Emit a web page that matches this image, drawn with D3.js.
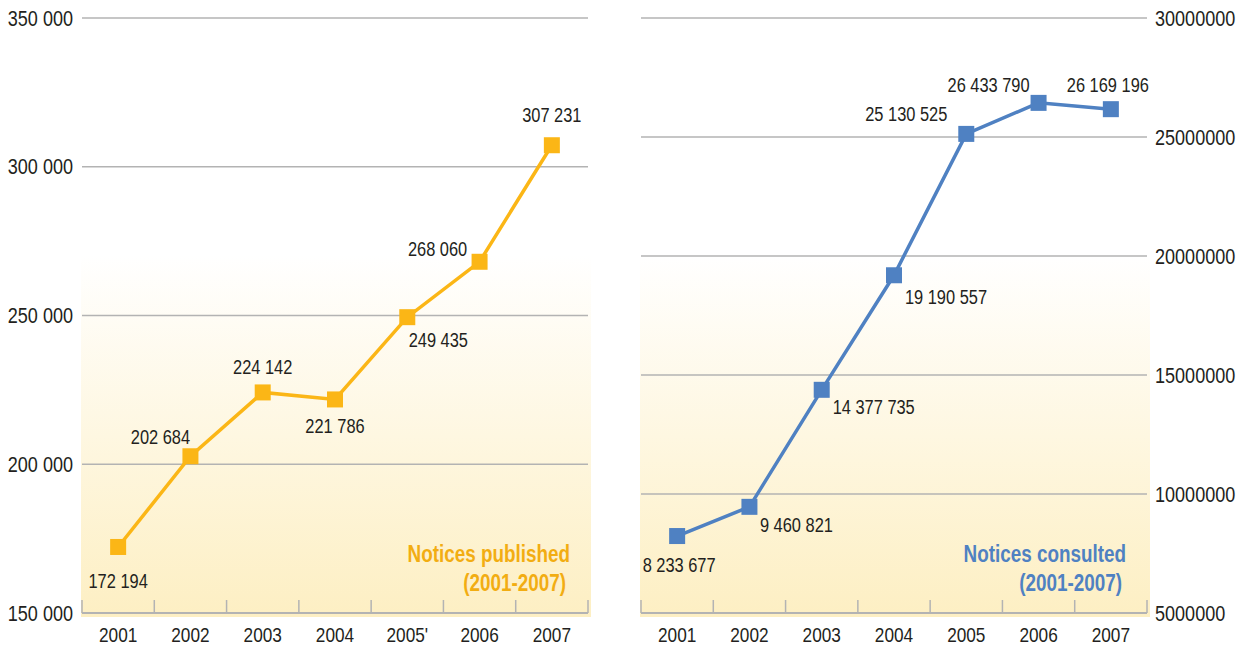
<!DOCTYPE html>
<html>
<head>
<meta charset="utf-8">
<script src="https://cdn.jsdelivr.net/npm/d3@7"></script>
<style>
  body { margin: 0; background: #fff; }
  svg text { font-family: "Liberation Sans", Arial, sans-serif; fill: #231f20; }
</style>
</head>
<body>
<svg id="chart" width="1247" height="648"></svg>
<script>
// data
const years = ['2001', '2002', '2003', '2004', '2005', '2006', '2007'];
const yearLabelsLeft = ['2001', '2002', '2003', '2004', "2005'", '2006', '2007'];
const published = [172194, 202684, 224142, 221786, 249435, 268060, 307231];
const consulted = [8233677, 9460821, 14377735, 19190557, 25130525, 26433790, 26169196];
const publishedTicks = [150000, 200000, 250000, 300000, 350000];
const consultedTicks = [5000000, 10000000, 15000000, 20000000, 25000000, 30000000];

// label offsets from marker (layout only)
const pubOffsets = [[0, 34], [-30, -19], [0, -25], [0, 27], [31, 23], [-42, -13], [0, -30]];
const conOffsets = [[2, 29], [47, 18], [52, 17], [52, 22], [-60, -20], [-50, -18], [-3, -24]];

const svg = d3.select('#chart');
const fmtSpace = v => d3.format(',')(v).replace(/,/g, ' ');

// squeeze text to look like a condensed face
function narrow(sel) {
  sel.each(function () {
    const w = this.getComputedTextLength();
    this.setAttribute('textLength', w * 0.82);
    this.setAttribute('lengthAdjust', 'spacingAndGlyphs');
  });
}

const defs = svg.append('defs');
const grad = defs.append('linearGradient')
  .attr('id', 'bgGrad').attr('x1', 0).attr('y1', 0).attr('x2', 0).attr('y2', 1);
grad.append('stop').attr('offset', '0%').attr('stop-color', '#ffffff');
grad.append('stop').attr('offset', '100%').attr('stop-color', '#fdefc3');

function drawPanel(opts) {
  const x = d3.scaleBand().domain(years).range([opts.x0, opts.x1]).padding(0);
  const y = d3.scaleLinear().domain(opts.domain).range([613, 18]);
  const g = svg.append('g');

  // background
  g.append('rect')
    .attr('x', opts.x0 - 1).attr('y', 255)
    .attr('width', opts.x1 - opts.x0 + opts.bgExtra).attr('height', 617 - 255)
    .attr('fill', 'url(#bgGrad)');

  // grid lines
  g.selectAll('.grid').data(opts.ticks.slice(1)).enter().append('line')
    .attr('x1', opts.x0).attr('x2', opts.x1)
    .attr('y1', d => y(d)).attr('y2', d => y(d))
    .attr('stroke', '#b3b3b3').attr('stroke-width', 1.5);

  // bottom axis line + ticks at band edges
  g.append('line')
    .attr('x1', opts.x0).attr('x2', opts.x1)
    .attr('y1', y(opts.domain[0])).attr('y2', y(opts.domain[0]))
    .attr('stroke', '#b3b3b3').attr('stroke-width', 2);
  const edges = years.map(d => x(d)).concat([opts.x1]);
  g.selectAll('.tk').data(edges).enter().append('line')
    .attr('x1', d => d).attr('x2', d => d)
    .attr('y1', 600).attr('y2', 613)
    .attr('stroke', '#b3b3b3').attr('stroke-width', 1.5);

  // x labels
  g.selectAll('.xl').data(years).enter().append('text')
    .attr('x', d => x(d) + x.bandwidth() / 2).attr('y', 642)
    .attr('text-anchor', 'middle').attr('font-size', 21)
    .text((d, i) => opts.xLabels[i])
    .call(narrow);

  // y labels
  g.selectAll('.yl').data(opts.ticks).enter().append('text')
    .attr('x', opts.yLabelX).attr('y', d => y(d))
    .attr('dy', '0.35em')
    .attr('text-anchor', opts.yAnchor).attr('font-size', 22)
    .text(d => opts.yFmt(d))
    .call(narrow);

  // line
  const cx = d => x(d) + x.bandwidth() / 2;
  g.append('path')
    .datum(opts.values)
    .attr('fill', 'none').attr('stroke', opts.color).attr('stroke-width', 3.5)
    .attr('d', d3.line().x((d, i) => cx(years[i])).y(d => y(d)));

  // markers
  g.selectAll('.mk').data(opts.values).enter().append('rect')
    .attr('x', (d, i) => cx(years[i]) - 8).attr('y', d => y(d) - 8)
    .attr('width', 16).attr('height', 16)
    .attr('fill', opts.color);

  // value labels
  g.selectAll('.vl').data(opts.values).enter().append('text')
    .attr('x', (d, i) => cx(years[i]) + opts.offsets[i][0])
    .attr('y', (d, i) => y(d) + opts.offsets[i][1])
    .attr('dy', '0.35em')
    .attr('text-anchor', 'middle').attr('font-size', 20)
    .text(d => fmtSpace(d))
    .call(narrow);

  // title
  const t = g.append('text')
    .attr('text-anchor', 'end').attr('font-size', 23).attr('font-weight', 'bold')
    .style('fill', opts.titleColor);
  t.append('tspan').attr('x', opts.titleX).attr('y', 562).text(opts.title[0]);
  t.append('tspan').attr('x', opts.titleX - 4).attr('y', 591).text(opts.title[1]);
  t.selectAll('tspan').call(narrow);
}

drawPanel({
  x0: 82, x1: 588, bgExtra: 4,
  domain: [150000, 350000], ticks: publishedTicks,
  values: published, offsets: pubOffsets,
  xLabels: yearLabelsLeft,
  yLabelX: 73, yAnchor: 'end', yFmt: fmtSpace,
  color: '#fbb616', titleColor: '#f2ad12',
  title: ['Notices published', '(2001-2007)'], titleX: 570
});

drawPanel({
  x0: 641, x1: 1147, bgExtra: 4,
  domain: [5000000, 30000000], ticks: consultedTicks,
  values: consulted, offsets: conOffsets,
  xLabels: years,
  yLabelX: 1155, yAnchor: 'start', yFmt: d => String(d),
  color: '#4f81c2', titleColor: '#4f81c2',
  title: ['Notices consulted', '(2001-2007)'], titleX: 1126
});
</script>
</body>
</html>
